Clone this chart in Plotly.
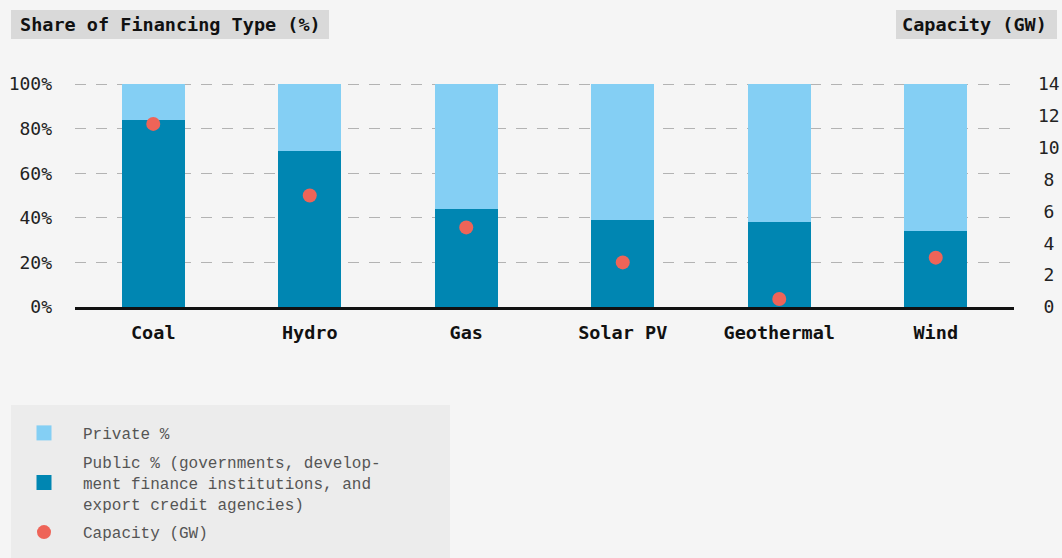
import plotly.graph_objects as go

# data
categories = ["Coal", "Hydro", "Gas", "Solar PV", "Geothermal", "Wind"]
public_pct = [84, 70, 44, 39, 38, 34]
private_pct = [16, 30, 56, 61, 62, 66]
capacity_gw = [11.5, 7.0, 5.0, 2.8, 0.5, 3.1]

pct_ticks = [0, 20, 40, 60, 80, 100]
pct_labels = ["0%", "20%", "40%", "60%", "80%", "100%"]
gw_ticks = [0, 2, 4, 6, 8, 10, 12, 14]

C_PRIVATE = "#84cff4"
C_PUBLIC = "#0086b2"
C_DOT = "#ee6458"
BG = "#f5f5f5"
MONO = "DejaVu Sans Mono"
LIGHT = "Liberation Mono"

W, H = 1062, 558
L, R, T, B = 75, 48, 83, 251
PW, PH = W - L - R, H - T - B
TOP_PAD = 0.5  # a little headroom so the 100% grid line is drawn


def px_x(x):
    return (x - L) / PW


def px_y(y):
    return (H - B - y) / PH


def gw_label(v):
    # single digit labels sit centred under the two-digit ones
    if v < 10:
        return '<span style="font-size:9px">\u00a0</span>' + str(v)
    return str(v)


fig = go.Figure()

fig.add_trace(go.Bar(x=categories, y=public_pct, marker_color=C_PUBLIC,
                     marker_line_width=0, width=0.4, showlegend=False))
fig.add_trace(go.Bar(x=categories, y=private_pct, marker_color=C_PRIVATE,
                     marker_line_width=0, width=0.4, showlegend=False))
fig.add_trace(go.Scatter(x=categories, y=capacity_gw, yaxis="y2", mode="markers",
                         marker=dict(color=C_DOT, size=14), showlegend=False))

# legend entries
fig.add_trace(go.Scatter(x=[None], y=[None], mode="markers", name="Private %",
                         legendgroup="a",
                         marker=dict(symbol="square", size=15, color=C_PRIVATE)))
fig.add_trace(go.Scatter(x=[None], y=[None], mode="markers",
                         name="Public % (governments, develop-<br>ment finance institutions, and<br>export credit agencies)",
                         legendgroup="b",
                         marker=dict(symbol="square", size=15, color=C_PUBLIC)))
fig.add_trace(go.Scatter(x=[None], y=[None], mode="markers", name="Capacity (GW)",
                         legendgroup="c",
                         marker=dict(symbol="circle", size=14, color=C_DOT)))

fig.update_layout(
    width=W, height=H,
    margin=dict(l=L, r=R, t=T, b=B, pad=0, autoexpand=False),
    paper_bgcolor=BG, plot_bgcolor=BG,
    barmode="stack",
    font=dict(family=MONO, size=18, color="#222"),
    xaxis=dict(showgrid=False, showline=True, linecolor="#111", linewidth=3,
               tickfont=dict(family=MONO, size=18.5, color="#111", weight="bold"),
               ticklabelstandoff=7, automargin=False, fixedrange=True),
    yaxis=dict(range=[0, 100 + TOP_PAD], tickvals=pct_ticks, ticktext=pct_labels,
               showgrid=True, gridcolor="#b3b3b3", gridwidth=1.2,
               griddash="11px,10px", zeroline=False, showline=False,
               ticklabelstandoff=22, automargin=False, fixedrange=True,
               tickfont=dict(size=18, color="#222")),
    yaxis2=dict(range=[0, 14 * (100 + TOP_PAD) / 100], tickvals=gw_ticks,
                ticktext=[gw_label(v) for v in gw_ticks],
                overlaying="y", side="right", showgrid=False, zeroline=False,
                showline=False, ticklabelstandoff=23, automargin=False,
                fixedrange=True, tickfont=dict(size=18, color="#222")),
    legend=dict(x=px_x(5), y=px_y(416), xanchor="left", yanchor="top",
                bgcolor="rgba(0,0,0,0)", itemwidth=68, tracegroupgap=5,
                font=dict(family=LIGHT, size=16, color="#555"),
                itemclick=False, itemdoubleclick=False),
    shapes=[
        dict(type="rect", xref="paper", yref="paper", layer="below",
             x0=px_x(11), x1=px_x(329), y0=px_y(39), y1=px_y(10),
             fillcolor="#d9d9d9", line_width=0),
        dict(type="rect", xref="paper", yref="paper", layer="below",
             x0=px_x(896), x1=px_x(1057), y0=px_y(39), y1=px_y(10),
             fillcolor="#d9d9d9", line_width=0),
        dict(type="rect", xref="paper", yref="paper", layer="below",
             x0=px_x(11), x1=px_x(450), y0=px_y(H + 5), y1=px_y(405),
             fillcolor="#ececec", line_width=0),
    ],
    annotations=[
        dict(text="<b>Share of Financing Type (%)</b>", xref="paper", yref="paper",
             x=px_x(18), y=px_y(24.5), xanchor="left", yanchor="middle",
             showarrow=False, font=dict(family=MONO, size=18.5, color="#111")),
        dict(text="<b>Capacity (GW)</b>", xref="paper", yref="paper",
             x=px_x(1049), y=px_y(24.5), xanchor="right", yanchor="middle",
             showarrow=False, font=dict(family=MONO, size=18.5, color="#111")),
    ],
)

fig.write_html("out.html", config={"displayModeBar": False},
               post_script="document.body.style.margin='0';")
